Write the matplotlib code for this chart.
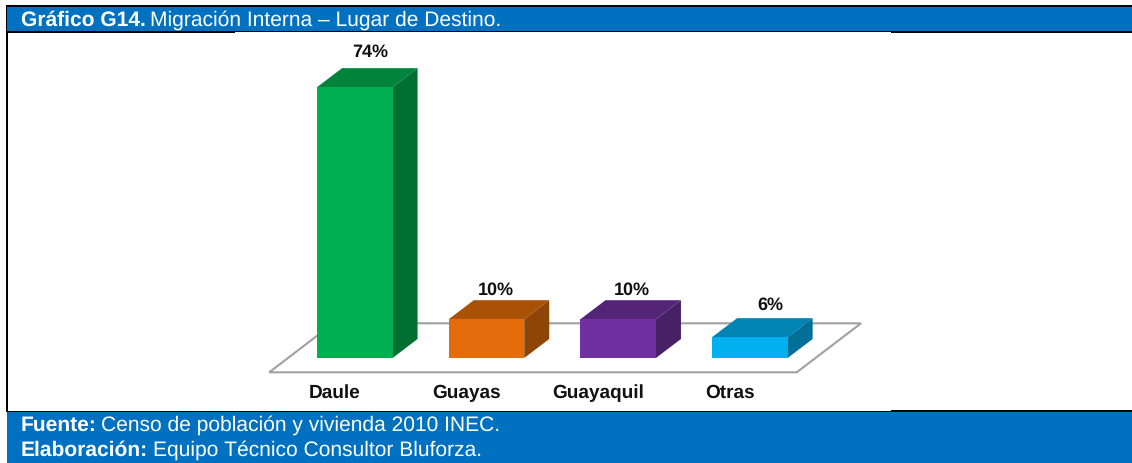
import matplotlib
matplotlib.use("Agg")
import matplotlib.pyplot as plt
from matplotlib.patches import Polygon, Rectangle

plt.rcParams['font.family'] = ['Liberation Sans', 'DejaVu Sans']
plt.rcParams['text.hinting'] = 'none'
plt.rcParams['text.hinting_factor'] = 1

categories = ["Daule", "Guayas", "Guayaquil", "Otras"]
# bar heights, the printed labels are rounded
heights = [74.0, 10.6, 10.6, 5.7]
value_labels = ["74%", "10%", "10%", "6%"]
label_gaps = [4.4, 2.8, 2.8, 3.6]
label_shifts = [2.0, -4.0, 0.0, 7.0]  # pixels, the labels are not quite centred

front_colors = ["#00B050", "#E46C0A", "#7030A0", "#00B0F0"]
top_colors = ["#00843C", "#AA5108", "#542478", "#0084B4"]
side_colors = ["#006F32", "#8F4507", "#472065", "#006F98"]

title_bold = "Gráfico G14."
title_rest = " Migración Interna – Lugar de Destino."
source_bold = "Fuente:"
source_rest = " Censo de población y vivienda 2010 INEC."
credit_bold = "Elaboración:"
credit_rest = " Equipo Técnico Consultor Bluforza."

W, H = 1132, 463
BLUE = "#0070C0"

# scale of the chart in pixels
px_per_cat = 131.7
px_per_pct = 3.66
x0_px = 354.8
y0_px = 358.0
bar_w = 75.5 / px_per_cat
dx = 25.0 / px_per_cat
dy = 19.0 / px_per_pct

fig = plt.figure(figsize=(W / 100, H / 100), dpi=100, facecolor="white")

# page layer in pixels: bands and black rules
bg = fig.add_axes([0, 0, 1, 1])
bg.set_xlim(0, W)
bg.set_ylim(H, 0)
bg.axis("off")


def band(x1, y1, x2, y2, color):
    bg.add_patch(Rectangle((x1, y1), x2 - x1, y2 - y1, fc=color, ec="none"))


band(6, 5, W, 7, "black")
band(6, 5, 8, 412, "black")
band(7, 7, W, 31, BLUE)
band(7, 31, 235, 33, "black")
band(235, 31, 891, 32, "black")
band(891, 31, W, 33, "black")
band(7, 410.5, 255, 412, "black")
band(255, 411, 891, 412, "black")
band(891, 410, W, 412, "black")
band(7, 412, W, 463, BLUE)

# chart layer: x in category index, y in percent
ax = fig.add_axes([0, 0, 1, 1])
ax.set_xlim(-x0_px / px_per_cat, (W - x0_px) / px_per_cat)
ax.set_ylim((y0_px - H) / px_per_pct, y0_px / px_per_pct)
ax.axis("off")
ax.patch.set_alpha(0)

# floor
fl = -14.3 / px_per_pct
bk = 34.7 / px_per_pct
ax.add_patch(Polygon([(-85.5 / px_per_cat, fl),
                      (442 / px_per_cat, fl),
                      (506.2 / px_per_cat, bk),
                      (-21.5 / px_per_cat, bk)],
                     closed=True, fc="white", ec="#A0A0A0", lw=1.5, zorder=1))

for i, h in enumerate(heights):
    l = i - bar_w / 2
    r = i + bar_w / 2
    ax.add_patch(Polygon([(l, h), (r, h), (r + dx, h + dy), (l + dx, h + dy)],
                         fc=top_colors[i], ec="none", zorder=3))
    ax.add_patch(Polygon([(r, 0), (r + dx, dy), (r + dx, h + dy), (r, h)],
                         fc=side_colors[i], ec="none", zorder=3))
    ax.add_patch(Rectangle((l, 0), bar_w, h, fc=front_colors[i], ec="none", zorder=4))
    ax.text(i + dx / 2 + 0.01 + label_shifts[i] / px_per_cat, h + dy + label_gaps[i], value_labels[i],
            ha="center", va="center", fontsize=13.2, fontweight="bold", color="#111111", zorder=5)
    ax.text(i - 20.0 / px_per_cat, -35.3 / px_per_pct, categories[i],
            ha="center", va="center", fontsize=13.5, fontweight="bold", color="#111111", zorder=5)


def two_part(x, y, bold, rest):
    t = bg.text(x, y, bold, fontsize=15.4, fontweight="bold", color="white",
                ha="left", va="center")
    fig.canvas.draw()
    box = t.get_window_extent()
    # the space between the two parts is added by hand
    bg.text(box.x1 + 4.5, y, rest.strip(), fontsize=15.4, color="white",
            ha="left", va="center")


two_part(21, 20.5, title_bold, title_rest)
two_part(21, 425.5, source_bold, source_rest)
two_part(21, 450.5, credit_bold, credit_rest)

fig.savefig("out.png", dpi=100)
